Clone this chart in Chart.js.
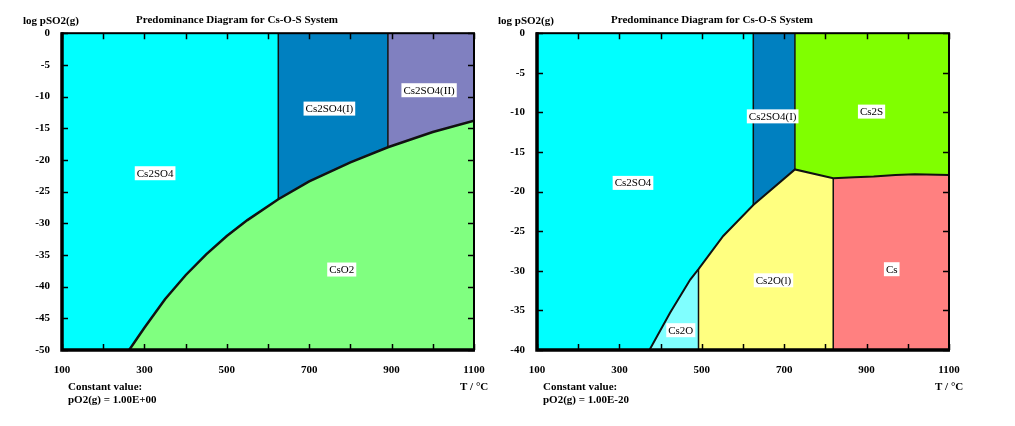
<!DOCTYPE html>
<html>
<head>
<meta charset="utf-8">
<script src="https://cdn.jsdelivr.net/npm/chart.js@4"></script>
<style>
  body { margin: 0; background: #fff; }
  #wrap { position: relative; width: 1015px; height: 426px; }
  .box { position: absolute; top: 0; width: 496px; height: 426px; }
</style>
</head>
<body>
<div id="wrap">
  <div class="box" style="left:0"><canvas id="left" width="496" height="426"></canvas></div>
  <div class="box" style="left:475px"><canvas id="right" width="496" height="426"></canvas></div>
</div>
<script>
// T axis (°C)
const tempMin = 100
const tempMax = 1100

// pO2(g) = 1 : Cs2SO4 / CsO2 boundary
const curveT1 = [263, 300, 350, 400, 450, 500, 550, 625, 700, 800, 891, 1000, 1100]
const curveP1 = [-50, -46.5, -42.0, -38.2, -34.9, -32.0, -29.5, -26.2, -23.4, -20.4, -18.0, -15.6, -13.8]
// Cs2SO4 -> Cs2SO4(I) -> Cs2SO4(II)
const phaseT1 = [625, 891]
const phaseP1 = [-26.2, -18.0]

// pO2(g) = 1E-20
const sulfEdgeT = [373, 423, 472, 492, 552, 625, 726]
const sulfEdgeP = [-40, -35.3, -31.1, -29.8, -25.6, -21.7, -17.2]
const csEdgeT = [726, 819, 870, 917, 970, 1017, 1100]
const csEdgeP = [-17.2, -18.3, -18.2, -18.1, -17.9, -17.8, -17.9]

// region names and where they sit (T, log pSO2)
const names1 = ['Cs2SO4', 'Cs2SO4(I)', 'Cs2SO4(II)', 'CsO2']
const nameT1 = [326, 749, 991, 779]
const nameP1 = [-22.1, -11.9, -9.0, -37.3]
const names2 = ['Cs2SO4', 'Cs2SO4(I)', 'Cs2S', 'Cs2O(l)', 'Cs', 'Cs2O']
const nameT2 = [333, 672, 912, 674, 961, 449]
const nameP2 = [-18.9, -10.5, -9.9, -31.2, -29.8, -37.5]

const pts = (T, P) => T.map((t, i) => ({ x: t, y: P[i] }))

const region = (data, fill, color) => ({
  data, fill, backgroundColor: color, borderColor: 'transparent',
  borderWidth: 0, pointRadius: 0, order: 2
})
const edge = (data, w) => ({
  data, fill: false, borderColor: '#111', borderWidth: w, pointRadius: 0, order: 0
})

const serif = '"Liberation Serif", "Times New Roman", serif'

const framePlugin = {
  id: 'frame',
  afterDatasetsDraw(chart, args, o) {
    const { ctx, scales: { x, y } } = chart
    ctx.save()
    ctx.font = '11px ' + serif
    ctx.textAlign = 'center'
    ctx.textBaseline = 'middle'
    o.names.forEach((n, i) => {
      const px = x.getPixelForValue(o.nameT[i])
      const py = y.getPixelForValue(o.nameP[i])
      const w = ctx.measureText(n).width
      ctx.fillStyle = '#fff'
      ctx.fillRect(px - w / 2 - 2, py - 7, w + 4, 14)
      ctx.fillStyle = '#000'
      ctx.fillText(n, px, py + 0.5)
    })
    ctx.restore()
  },
  afterDraw(chart, args, o) {
    const { ctx, chartArea: a, scales: { x, y } } = chart
    ctx.save()
    ctx.strokeStyle = '#000'
    ctx.lineWidth = 1.5
    ctx.beginPath()
    x.ticks.forEach(t => {
      const px = Math.round(x.getPixelForValue(t.value)) + 0.5
      ctx.moveTo(px, a.bottom); ctx.lineTo(px, a.bottom - 6)
      ctx.moveTo(px, a.top); ctx.lineTo(px, a.top + 6)
    })
    y.ticks.forEach(t => {
      const py = Math.round(y.getPixelForValue(t.value)) + 0.5
      ctx.moveTo(a.left, py); ctx.lineTo(a.left + 6, py)
      ctx.moveTo(a.right, py); ctx.lineTo(a.right - 6, py)
    })
    ctx.stroke()
    // box: thin top/right, heavy left/bottom
    ctx.lineWidth = 2
    ctx.strokeRect(a.left, a.top, a.right - a.left, a.bottom - a.top)
    ctx.lineWidth = 3.5
    ctx.beginPath()
    ctx.moveTo(a.left, a.top - 1); ctx.lineTo(a.left, a.bottom); ctx.lineTo(a.right + 1, a.bottom)
    ctx.stroke()

    ctx.fillStyle = '#000'
    ctx.font = 'bold 11px ' + serif
    ctx.textBaseline = 'middle'
    ctx.textAlign = 'left'
    ctx.fillText('log pSO2(g)', 23, 21)
    ctx.fillText('Constant value:', 68, 387)
    ctx.fillText(o.note, 68, 400)
    ctx.fillText('T / °C', 460, 387)
    ctx.restore()
  }
}

function makeChart(id, datasets, yMin, note, names, nameT, nameP) {
  const tickFont = { family: serif, size: 11, weight: 'bold' }
  return new Chart(document.getElementById(id), {
    type: 'line',
    data: { datasets },
    options: {
      responsive: false,
      animation: false,
      layout: { padding: { left: 0, right: 22, top: 0, bottom: 46 } },
      plugins: {
        legend: { display: false },
        tooltip: { enabled: false },
        title: {
          display: true,
          text: 'Predominance Diagram for Cs-O-S System',
          color: '#000',
          font: tickFont,
          padding: { top: 14, bottom: 6 }
        },
        frame: { note, names, nameT, nameP }
      },
      scales: {
        x: {
          type: 'linear', min: tempMin, max: tempMax,
          grid: { display: false }, border: { display: false },
          ticks: {
            stepSize: 100, autoSkip: false, maxRotation: 0, padding: 6,
            color: '#000', font: tickFont,
            callback: v => ((v - tempMin) % 200 === 0 ? v : '')
          },
          afterFit: s => { s.height = 30 }
        },
        y: {
          min: yMin, max: 0,
          grid: { display: false }, border: { display: false },
          ticks: { stepSize: 5, padding: 4, color: '#000', font: tickFont },
          afterFit: s => { s.width = 62 }
        }
      }
    },
    plugins: [framePlugin]
  })
}

// left: pO2 = 1
const c1 = pts(curveT1, curveP1)
const i625 = curveT1.indexOf(phaseT1[0])
const i891 = curveT1.indexOf(phaseT1[1])
makeChart('left', [
  edge(c1, 2.5),
  edge([{ x: phaseT1[0], y: 0 }, { x: phaseT1[0], y: phaseP1[0] }], 1.5),
  edge([{ x: phaseT1[1], y: 0 }, { x: phaseT1[1], y: phaseP1[1] }], 1.5),
  region([{ x: tempMin, y: -50 }].concat(c1.slice(0, i625 + 1)), 'end', '#00ffff'),
  region(c1.slice(i625, i891 + 1), 'end', '#0080c0'),
  region(c1.slice(i891), 'end', '#8080c0'),
  region(c1, 'start', '#80ff80')
], -50, 'pO2(g) = 1.00E+00', names1, nameT1, nameP1)

// right: pO2 = 1E-20
const s2 = pts(sulfEdgeT, sulfEdgeP)
const e2 = pts(csEdgeT, csEdgeP)
const iMelt = 3   // Cs2O -> Cs2O(l)
const iSulf = 5   // Cs2SO4 -> Cs2SO4(I)
makeChart('right', [
  edge(s2.concat(e2.slice(1)), 2),
  edge([{ x: sulfEdgeT[iSulf], y: 0 }, s2[iSulf]], 1.5),
  edge([{ x: csEdgeT[0], y: 0 }, e2[0]], 1.5),
  edge([s2[iMelt], { x: sulfEdgeT[iMelt], y: -40 }], 1.5),
  edge([e2[1], { x: csEdgeT[1], y: -40 }], 1.5),
  region([{ x: tempMin, y: -40 }].concat(s2.slice(0, iSulf + 1)), 'end', '#00ffff'),
  region(s2.slice(iSulf), 'end', '#0080c0'),
  region(e2, 'end', '#80ff00'),
  region(e2.slice(1), 'start', '#ff8080'),
  region(s2.slice(iMelt).concat([e2[1]]), 'start', '#ffff80'),
  region(s2.slice(0, iMelt + 1), 'start', '#80ffff')
], -40, 'pO2(g) = 1.00E-20', names2, nameT2, nameP2)
</script>
</body>
</html>
